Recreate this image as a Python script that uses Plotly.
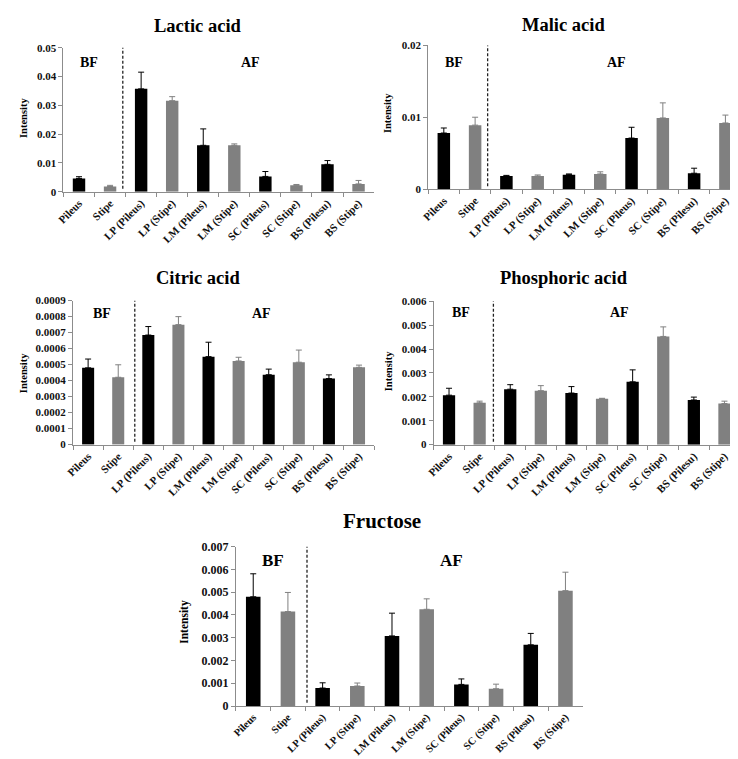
import plotly.graph_objects as go

categories = ["Pileus", "Stipe", "LP (Pileus)", "LP (Stipe)", "LM (Pileus)", "LM (Stipe)",
              "SC (Pileus)", "SC (Stipe)", "BS (Pilesu)", "BS (Stipe)"]

lactic = [0.0046, 0.0018, 0.0357, 0.0316, 0.0161, 0.0161, 0.0053, 0.0022, 0.0095, 0.0027]
lactic_err = [0.0006, 0.0004, 0.0058, 0.0014, 0.0057, 0.0005, 0.0017, 0.0003, 0.0013, 0.0012]

malic = [0.0078, 0.0089, 0.0018, 0.0018, 0.0020, 0.0021, 0.0071, 0.0099, 0.0022, 0.0092]
malic_err = [0.0007, 0.0011, 0.0001, 0.00016, 0.0001, 0.0003, 0.0015, 0.0021, 0.0007, 0.0011]

citric = [0.000480, 0.000421, 0.000685, 0.000750, 0.000550, 0.000523, 0.000437, 0.000515, 0.000413, 0.000483]
citric_err = [0.000055, 0.000078, 0.000053, 0.000050, 0.000090, 0.000023, 0.000035, 0.000076, 0.000023, 0.000014]

phosphoric = [0.00207, 0.00175, 0.00232, 0.00226, 0.00216, 0.00192, 0.00263, 0.00453, 0.00187, 0.00172]
phosphoric_err = [0.00029, 0.00007, 0.00019, 0.00021, 0.00027, 0.00002, 0.00050, 0.00040, 0.00012, 0.00010]

fructose = [0.00480, 0.00415, 0.00079, 0.00088, 0.00308, 0.00425, 0.00095, 0.00076, 0.00269, 0.00507]
fructose_err = [0.00101, 0.00084, 0.00023, 0.00013, 0.00100, 0.00046, 0.00024, 0.00020, 0.00050, 0.00081]

lactic_ticks = ["0", "0.01", "0.02", "0.03", "0.04", "0.05"]
malic_ticks = ["0", "0.01", "0.02"]
citric_ticks = ["0", "0.0001", "0.0002", "0.0003", "0.0004", "0.0005", "0.0006", "0.0007", "0.0008", "0.0009"]
phosphoric_ticks = ["0", "0.001", "0.002", "0.003", "0.004", "0.005", "0.006"]
fructose_ticks = ["0", "0.001", "0.002", "0.003", "0.004", "0.005", "0.006", "0.007"]

titles = ["Lactic acid", "Malic acid", "Citric acid", "Phosphoric acid", "Fructose"]

W, H = 738, 759
FONT = "Liberation Serif"
BLACK = "#000000"
GREY = "#808080"
AXC = "#8c8c8c"

# panel geometry in pixels: (x0, x1, ytop, ybottom)
panels = [
    dict(vals=lactic, err=lactic_err, ticks=lactic_ticks, box=(48, 362, 33.3, 180), dash=1.41,
         title=(184, 11, 18.5), ylab=(7, 105), bf=(74, 48), af=(237, 48), fs=11, xfs=11, bfs=14, bw=0.4),
    dict(vals=malic, err=malic_err, ticks=malic_ticks, box=(416.7, 733, 31, 177.3), dash=1.40,
         title=(553, 10, 18.5), ylab=(375, 100), bf=(443, 48), af=(607, 48), fs=11, xfs=11, bfs=14, bw=0.4),
    dict(vals=citric, err=citric_err, ticks=citric_ticks, box=(57.7, 362, 291, 437.7), dash=1.55,
         title=(184, 268, 18.5), ylab=(7, 365), bf=(87, 304), af=(248, 304), fs=11, xfs=11, bfs=14, bw=0.4),
    dict(vals=phosphoric, err=phosphoric_err, ticks=phosphoric_ticks, box=(422.3, 731.7, 291.7, 437.7), dash=1.45,
         title=(554, 268, 18.5), ylab=(376, 363), bf=(450, 303), af=(610, 303), fs=11, xfs=11, bfs=14, bw=0.4),
    dict(vals=fructose, err=fructose_err, ticks=fructose_ticks, box=(222.3, 573, 541.7, 704), dash=1.55,
         title=(370, 515, 21), ylab=(170, 618), bf=(260, 556), af=(440, 556), fs=12, xfs=10.5, bfs=17, bw=0.42),
]

fig = go.Figure()
colors = [BLACK if i % 2 == 0 else GREY for i in range(len(categories))]
annotations = []
shapes = []
layout = {}

for k, p in enumerate(panels):
    n = "" if k == 0 else str(k + 1)
    x0, x1, yt, yb = p["box"]
    tickvals = [float(t) for t in p["ticks"]]
    top = tickvals[-1]
    for i, cat in enumerate(categories):
        fig.add_trace(go.Bar(
            x=[cat], y=[p["vals"][i]], width=p["bw"],
            marker=dict(color=colors[i], line=dict(width=0)),
            error_y=dict(type="data", symmetric=False, array=[p["err"][i]], arrayminus=[0],
                         color=colors[i], thickness=1, width=3),
            xaxis="x" + n, yaxis="y" + n, showlegend=False, hoverinfo="x+y"))
    layout["xaxis" + n] = dict(
        domain=[x0 / W, x1 / W], anchor="y" + n, type="category",
        categoryorder="array", categoryarray=categories, range=[-0.5, 9.5],
        showline=True, linecolor=AXC, linewidth=1, ticks="outside", tickson="boundaries",
        ticklen=4, tickcolor=AXC, tickangle=-45, showgrid=False, zeroline=False,
        tickfont=dict(family=FONT, size=p["xfs"], color="#111", weight="bold"))
    layout["yaxis" + n] = dict(
        domain=[1 - yb / H, 1 - yt / H], anchor="x" + n, range=[0, top],
        tickvals=tickvals, ticktext=p["ticks"],
        showline=True, linecolor=AXC, linewidth=1, ticks="outside", ticklen=4, tickcolor=AXC,
        showgrid=False, zeroline=False,
        tickfont=dict(family=FONT, size=p["fs"], color="#111", weight="bold"))
    tx, ty, ts = p["title"]
    annotations.append(dict(text="<b>%s</b>" % titles[k], x=tx / W, y=1 - ty / H, xref="paper", yref="paper",
                            showarrow=False, xanchor="center", yanchor="middle",
                            font=dict(family=FONT, size=ts, color="#000")))
    lx, ly = p["ylab"]
    annotations.append(dict(text="<b>Intensity</b>", x=lx / W, y=1 - ly / H, xref="paper", yref="paper",
                            showarrow=False, textangle=-90, xanchor="center", yanchor="middle",
                            font=dict(family=FONT, size=p["fs"] - 0.5, color="#000")))
    for lab, pos in (("BF", p["bf"]), ("AF", p["af"])):
        annotations.append(dict(text="<b>%s</b>" % lab, x=pos[0] / W, y=1 - pos[1] / H,
                                xref="paper", yref="paper", showarrow=False,
                                xanchor="center", yanchor="middle",
                                font=dict(family=FONT, size=p["bfs"], color="#000")))
    shapes.append(dict(type="line", xref="x" + n, yref="y%s domain" % n,
                       x0=p["dash"], x1=p["dash"], y0=0.02, y1=1.0,
                       line=dict(color="#222", width=1.3, dash="3px,2px")))

fig.update_layout(**layout)
fig.update_layout(width=W, height=H, autosize=False, margin=dict(l=0, r=0, t=0, b=0),
                  paper_bgcolor="white", plot_bgcolor="white", barmode="overlay",
                  annotations=annotations, shapes=shapes, showlegend=False)

fig.write_html("out.html")
